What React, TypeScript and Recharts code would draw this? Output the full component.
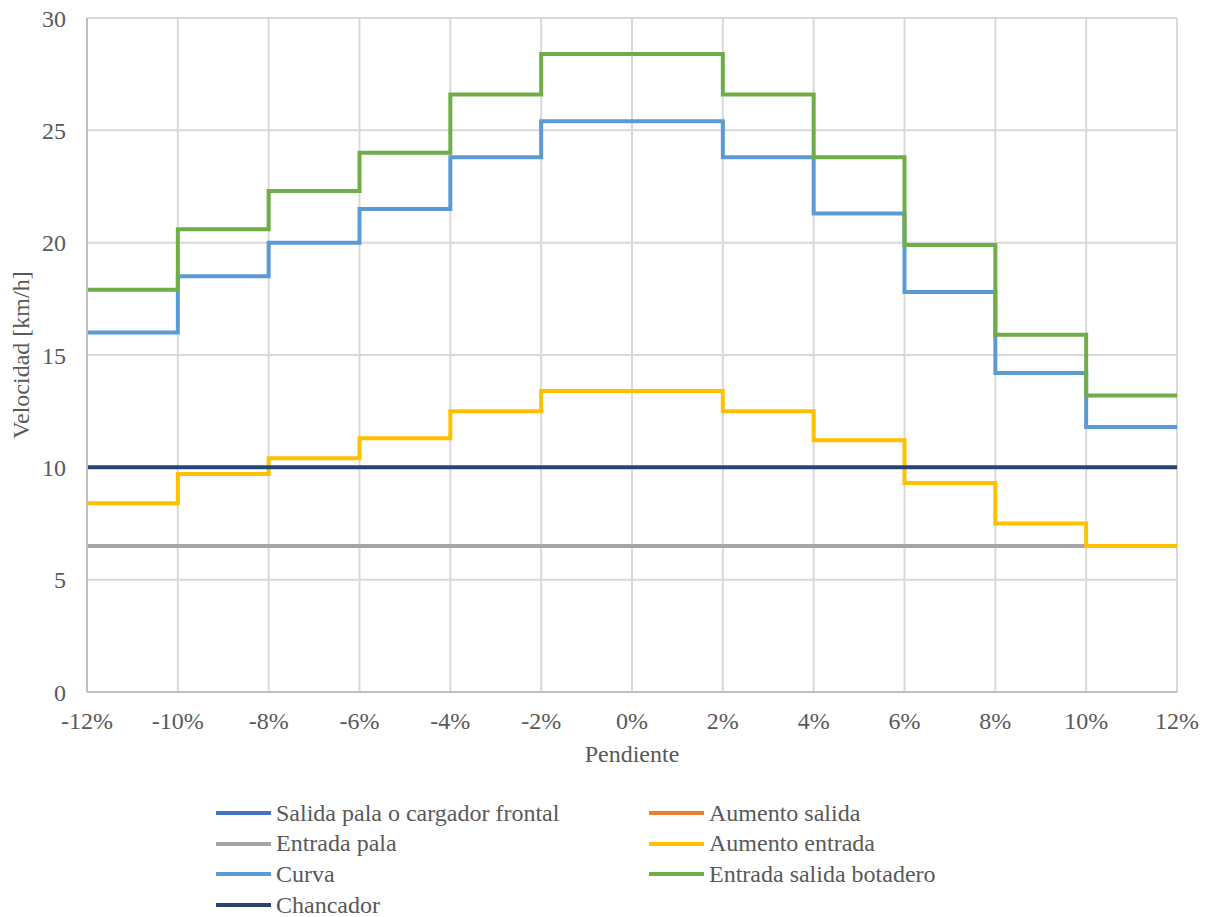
import React from 'react';
import { LineChart, Line, XAxis, YAxis, CartesianGrid } from 'recharts';

// Pendiente (%) en los límites de cada tramo
const pendiente = [-12, -10, -8, -6, -4, -2, 0, 2, 4, 6, 8, 10, 12];

// Velocidades [km/h] por tramo (el último punto repite el valor para cerrar el escalón)
const entradaPala = [6.5, 6.5, 6.5, 6.5, 6.5, 6.5, 6.5, 6.5, 6.5, 6.5, 6.5, 6.5, 6.5];
const aumentoEntrada = [8.4, 9.7, 10.4, 11.3, 12.5, 13.4, 13.4, 12.5, 11.2, 9.3, 7.5, 6.5, 6.5];
const curva = [16.0, 18.5, 20.0, 21.5, 23.8, 25.4, 25.4, 23.8, 21.3, 17.8, 14.2, 11.8, 11.8];
const botadero = [17.9, 20.6, 22.3, 24.0, 26.6, 28.4, 28.4, 26.6, 23.8, 19.9, 15.9, 13.2, 13.2];
const chancador = [10, 10, 10, 10, 10, 10, 10, 10, 10, 10, 10, 10, 10];

const xTicks = [-12, -10, -8, -6, -4, -2, 0, 2, 4, 6, 8, 10, 12];
const yTicks = [0, 5, 10, 15, 20, 25, 30];

const series = [
  { key: 'salidaPala', name: 'Salida pala o cargador frontal', color: '#4472C4', values: null },
  { key: 'aumentoSalida', name: 'Aumento salida', color: '#ED7D31', values: null },
  { key: 'entradaPala', name: 'Entrada pala', color: '#A5A5A5', values: entradaPala },
  { key: 'aumentoEntrada', name: 'Aumento entrada', color: '#FFC000', values: aumentoEntrada },
  { key: 'curva', name: 'Curva', color: '#5B9BD5', values: curva },
  { key: 'botadero', name: 'Entrada salida botadero', color: '#70AD47', values: botadero },
  { key: 'chancador', name: 'Chancador', color: '#264478', values: chancador },
];

const data = pendiente.map((p, i) => {
  const row: Record<string, number> = { pendiente: p };
  series.forEach((s) => {
    if (s.values) row[s.key] = s.values[i];
  });
  return row;
});

const FONT = '"Liberation Serif", "Times New Roman", serif';
const TEXT = '#595959';
const tickStyle = { fill: TEXT, fontSize: 24, fontFamily: FONT };

function ChartLegend() {
  return (
    <div style={{ position: 'absolute', left: 0, top: 0, width: 1212, height: 917, pointerEvents: 'none' }}>
      {series.map((s, i) => {
        const col = i % 2;
        const row = Math.floor(i / 2);
        const left = col === 0 ? 216 : 649;
        const top = 813 + row * 30.7;
        return (
          <div
            key={s.key}
            style={{
              position: 'absolute',
              left,
              top: top - 15,
              height: 30,
              display: 'flex',
              alignItems: 'center',
              fontFamily: FONT,
              fontSize: 24,
              color: TEXT,
              whiteSpace: 'nowrap',
            }}
          >
            <span style={{ display: 'inline-block', width: 55, height: 4, background: s.color, marginRight: 5 }} />
            {s.name}
          </div>
        );
      })}
    </div>
  );
}

export default function App() {
  return (
    <div style={{ position: 'absolute', left: 0, top: 0, width: 1212, height: 917, background: '#fff' }}>
      <LineChart width={1212} height={917} data={data} margin={{ top: 18, right: 35, bottom: 175, left: 0 }}>
        <CartesianGrid stroke="#D9D9D9" strokeWidth={2} />
        <XAxis
          dataKey="pendiente"
          type="number"
          domain={[-12, 12]}
          ticks={xTicks}
          tickFormatter={(v) => `${v}%`}
          height={50}
          tickLine={false}
          tickSize={0}
          tickMargin={20}
          axisLine={{ stroke: '#BFBFBF', strokeWidth: 2 }}
          tick={tickStyle}
          interval={0}
          label={{ value: 'Pendiente', position: 'bottom', offset: 3, style: tickStyle }}
        />
        <YAxis
          type="number"
          domain={[0, 30]}
          ticks={yTicks}
          width={87}
          tickLine={false}
          tickSize={0}
          tickMargin={21}
          axisLine={{ stroke: '#BFBFBF', strokeWidth: 2 }}
          tick={tickStyle}
          interval={0}
          label={{
            value: 'Velocidad [km/h]',
            angle: -90,
            position: 'insideLeft',
            offset: 20,
            style: { ...tickStyle, textAnchor: 'middle' },
          }}
        />
        {series.map((s) => (
          <Line
            key={s.key}
            dataKey={s.key}
            name={s.name}
            type="stepAfter"
            stroke={s.color}
            strokeWidth={4}
            dot={false}
            activeDot={false}
            isAnimationActive={false}
          />
        ))}
      </LineChart>
      <ChartLegend />
    </div>
  );
}
